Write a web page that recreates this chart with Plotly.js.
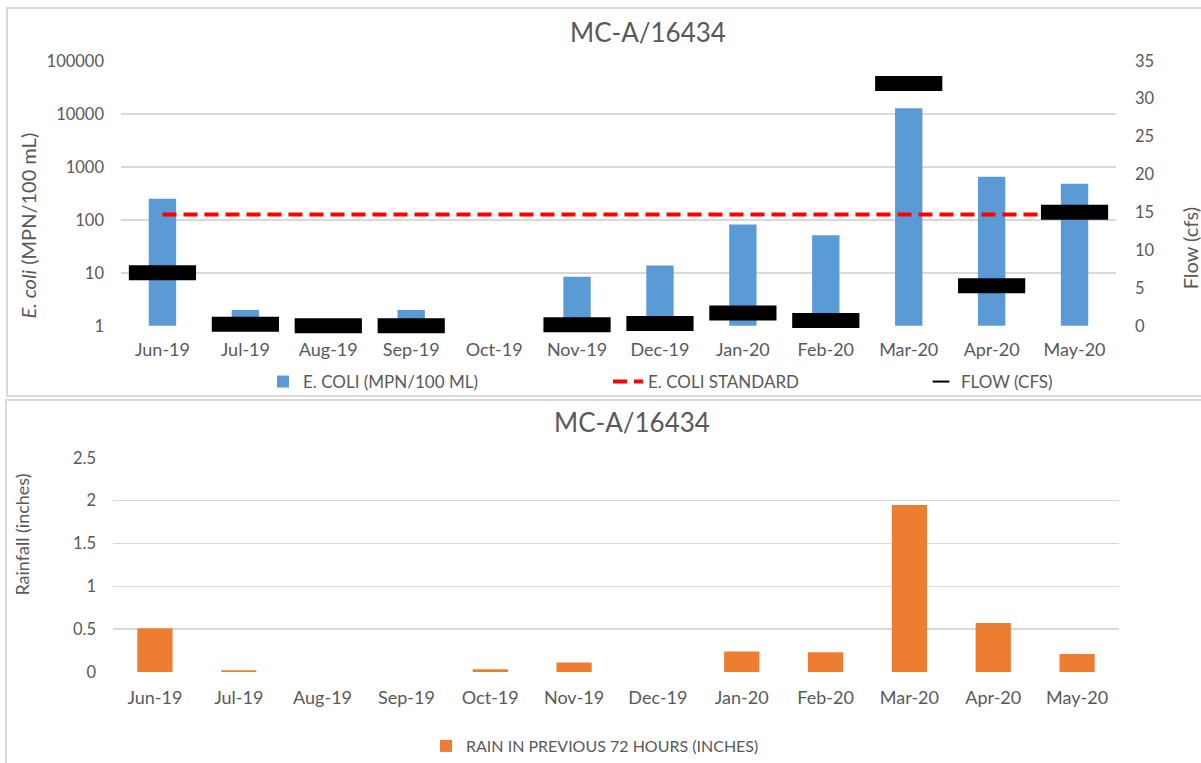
<!DOCTYPE html>
<html>
<head>
<meta charset="utf-8">
<script src="https://cdn.plot.ly/plotly-3.0.1.min.js"></script>
<style>html,body{margin:0;padding:0;background:#fff;}#chart{width:1201px;height:763px;}</style>
</head>
<body>
<div id="chart"></div>
<script>
const months = ['Jun-19','Jul-19','Aug-19','Sep-19','Oct-19','Nov-19','Dec-19','Jan-20','Feb-20','Mar-20','Apr-20','May-20'];
const ecoli = [250, 2, 1, 2, null, 8.4, 13.7, 82, 51, 12700, 650, 480];
const ecoliStandard = [126,126,126,126,126,126,126,126,126,126,126,126];
const flow = [7.0, 0.2, 0, 0, null, 0.15, 0.3, 1.7, 0.7, 32, 5.3, 15.0];
const rain = [0.51, 0.02, 0, 0, 0.03, 0.11, 0, 0.24, 0.23, 1.95, 0.57, 0.21];
const logTicks = [1, 10, 100, 1000, 10000, 100000];
const logTickText = ['1','10','100','1000','10000','100000'];

const W = 1201, H = 763;
const px = v => v / W;
const py = v => 1 - v / H;
const FONT = 'Lato, "Open Sans", sans-serif';
const GREY = '#595959';
const GRID = '#d9d9d9';

const traces = [
  {type:'bar', x: months, y: ecoli, name:'E. COLI (MPN/100 ML)', xaxis:'x', yaxis:'y',
   marker:{color:'#5b9bd5'}, width:0.33, legend:'legend', hoverinfo:'x+y'},
  {type:'scatter', mode:'lines', x: months, y: ecoliStandard, name:'E. COLI STANDARD', xaxis:'x', yaxis:'y',
   line:{color:'#ff0000', width:4, dash:'14px,7px'}, legend:'legend2', cliponaxis:false},
  {type:'scatter', mode:'markers', x: months, y: flow, name:'FLOW (CFS)', xaxis:'x', yaxis:'y2',
   marker:{symbol:'line-ew', size:48, color:'#000', line:{color:'#000', width:15}}, legend:'legend3',
   cliponaxis:false},
  {type:'bar', x: months, y: rain, name:'RAIN IN PREVIOUS 72 HOURS (INCHES)', xaxis:'x3', yaxis:'y3',
   marker:{color:'#ed7d31'}, width:0.42, legend:'legend4'}
];

const legendBase = {orientation:'h', font:{family:FONT, size:17, color:GREY}, bgcolor:'rgba(0,0,0,0)', yanchor:'middle', xanchor:'left'};

const layout = {
  width: W, height: H,
  margin:{l:0, r:0, t:0, b:0},
  paper_bgcolor:'#fff', plot_bgcolor:'#fff',
  font:{family:FONT, color:GREY},
  showlegend:true,
  bargap:0.5,
  xaxis:{domain:[px(121), px(1116)], anchor:'y', type:'category', range:[-0.5, 11.5],
    showgrid:false, zeroline:false, showline:false, ticks:'', tickfont:{family:FONT, size:18, color:GREY},
    ticklabelstandoff:11, automargin:false},
  yaxis:{domain:[py(326.7), py(61)], anchor:'x', type:'log', range:[0, 5],
    tickvals: logTicks, ticktext: logTickText, showgrid:true, gridcolor:GRID, gridwidth:1.5,
    zeroline:false, showline:false, ticks:'', tickfont:{family:FONT, size:16.5, color:GREY},
    ticklabelstandoff:16, automargin:false},
  yaxis2:{overlaying:'y', side:'right', anchor:'x', range:[0, 35], dtick:5, showgrid:false,
    zeroline:false, showline:false, ticks:'', tickfont:{family:FONT, size:16.5, color:GREY},
    ticklabelstandoff:18, automargin:false},
  xaxis3:{domain:[px(113), px(1119)], anchor:'y3', type:'category', range:[-0.5, 11.5],
    showgrid:false, zeroline:false, showline:false, ticks:'', tickfont:{family:FONT, size:18, color:GREY},
    ticklabelstandoff:13, automargin:false},
  yaxis3:{domain:[py(673.7), py(459)], anchor:'x3', range:[0, 2.5], dtick:0.5, showgrid:true,
    gridcolor:GRID, gridwidth:1.5, zeroline:false, showline:false, ticks:'',
    tickfont:{family:FONT, size:16.5, color:GREY}, ticklabelstandoff:16, automargin:false},
  legend: Object.assign({}, legendBase, {x:px(263), y:py(383)}),
  legend2: Object.assign({}, legendBase, {x:px(608), y:py(383)}),
  legend3: Object.assign({}, legendBase, {x:px(921), y:py(383), itemsizing:'constant'}),
  legend4: Object.assign({}, legendBase, {x:px(426), y:py(748), font:{family:FONT, size:16, color:GREY}}),
  annotations:[
    {text:'MC-A/16434', xref:'paper', yref:'paper', x:px(648), y:py(32), showarrow:false,
     xanchor:'center', yanchor:'middle', font:{family:FONT, size:26, color:GREY}},
    {text:'MC-A/16434', xref:'paper', yref:'paper', x:px(632), y:py(423), showarrow:false,
     xanchor:'center', yanchor:'middle', font:{family:FONT, size:26, color:GREY}},
    {text:'<i>E. coli</i> (MPN/100 mL)', xref:'paper', yref:'paper', x:px(28), y:py(226), showarrow:false,
     textangle:-90, xanchor:'center', yanchor:'middle', font:{family:FONT, size:20, color:GREY}},
    {text:'Flow (cfs)', xref:'paper', yref:'paper', x:px(1190), y:py(249), showarrow:false,
     textangle:-90, xanchor:'center', yanchor:'middle', font:{family:FONT, size:20, color:GREY}},
    {text:'Rainfall (inches)', xref:'paper', yref:'paper', x:px(22), y:py(536), showarrow:false,
     textangle:-90, xanchor:'center', yanchor:'middle', font:{family:FONT, size:18, color:GREY}}
  ],
  shapes:[
    {type:'rect', xref:'paper', yref:'paper', x0:px(7), x1:px(1210), y0:py(397), y1:py(8),
     line:{color:GRID, width:2}, fillcolor:'rgba(0,0,0,0)', layer:'below'},
    {type:'rect', xref:'paper', yref:'paper', x0:px(6), x1:px(1210), y0:py(775), y1:py(401),
     line:{color:GRID, width:2}, fillcolor:'rgba(0,0,0,0)', layer:'below'}
  ]
};

Plotly.newPlot('chart', traces, layout, {displayModeBar:false, staticPlot:true});
</script>
</body>
</html>
